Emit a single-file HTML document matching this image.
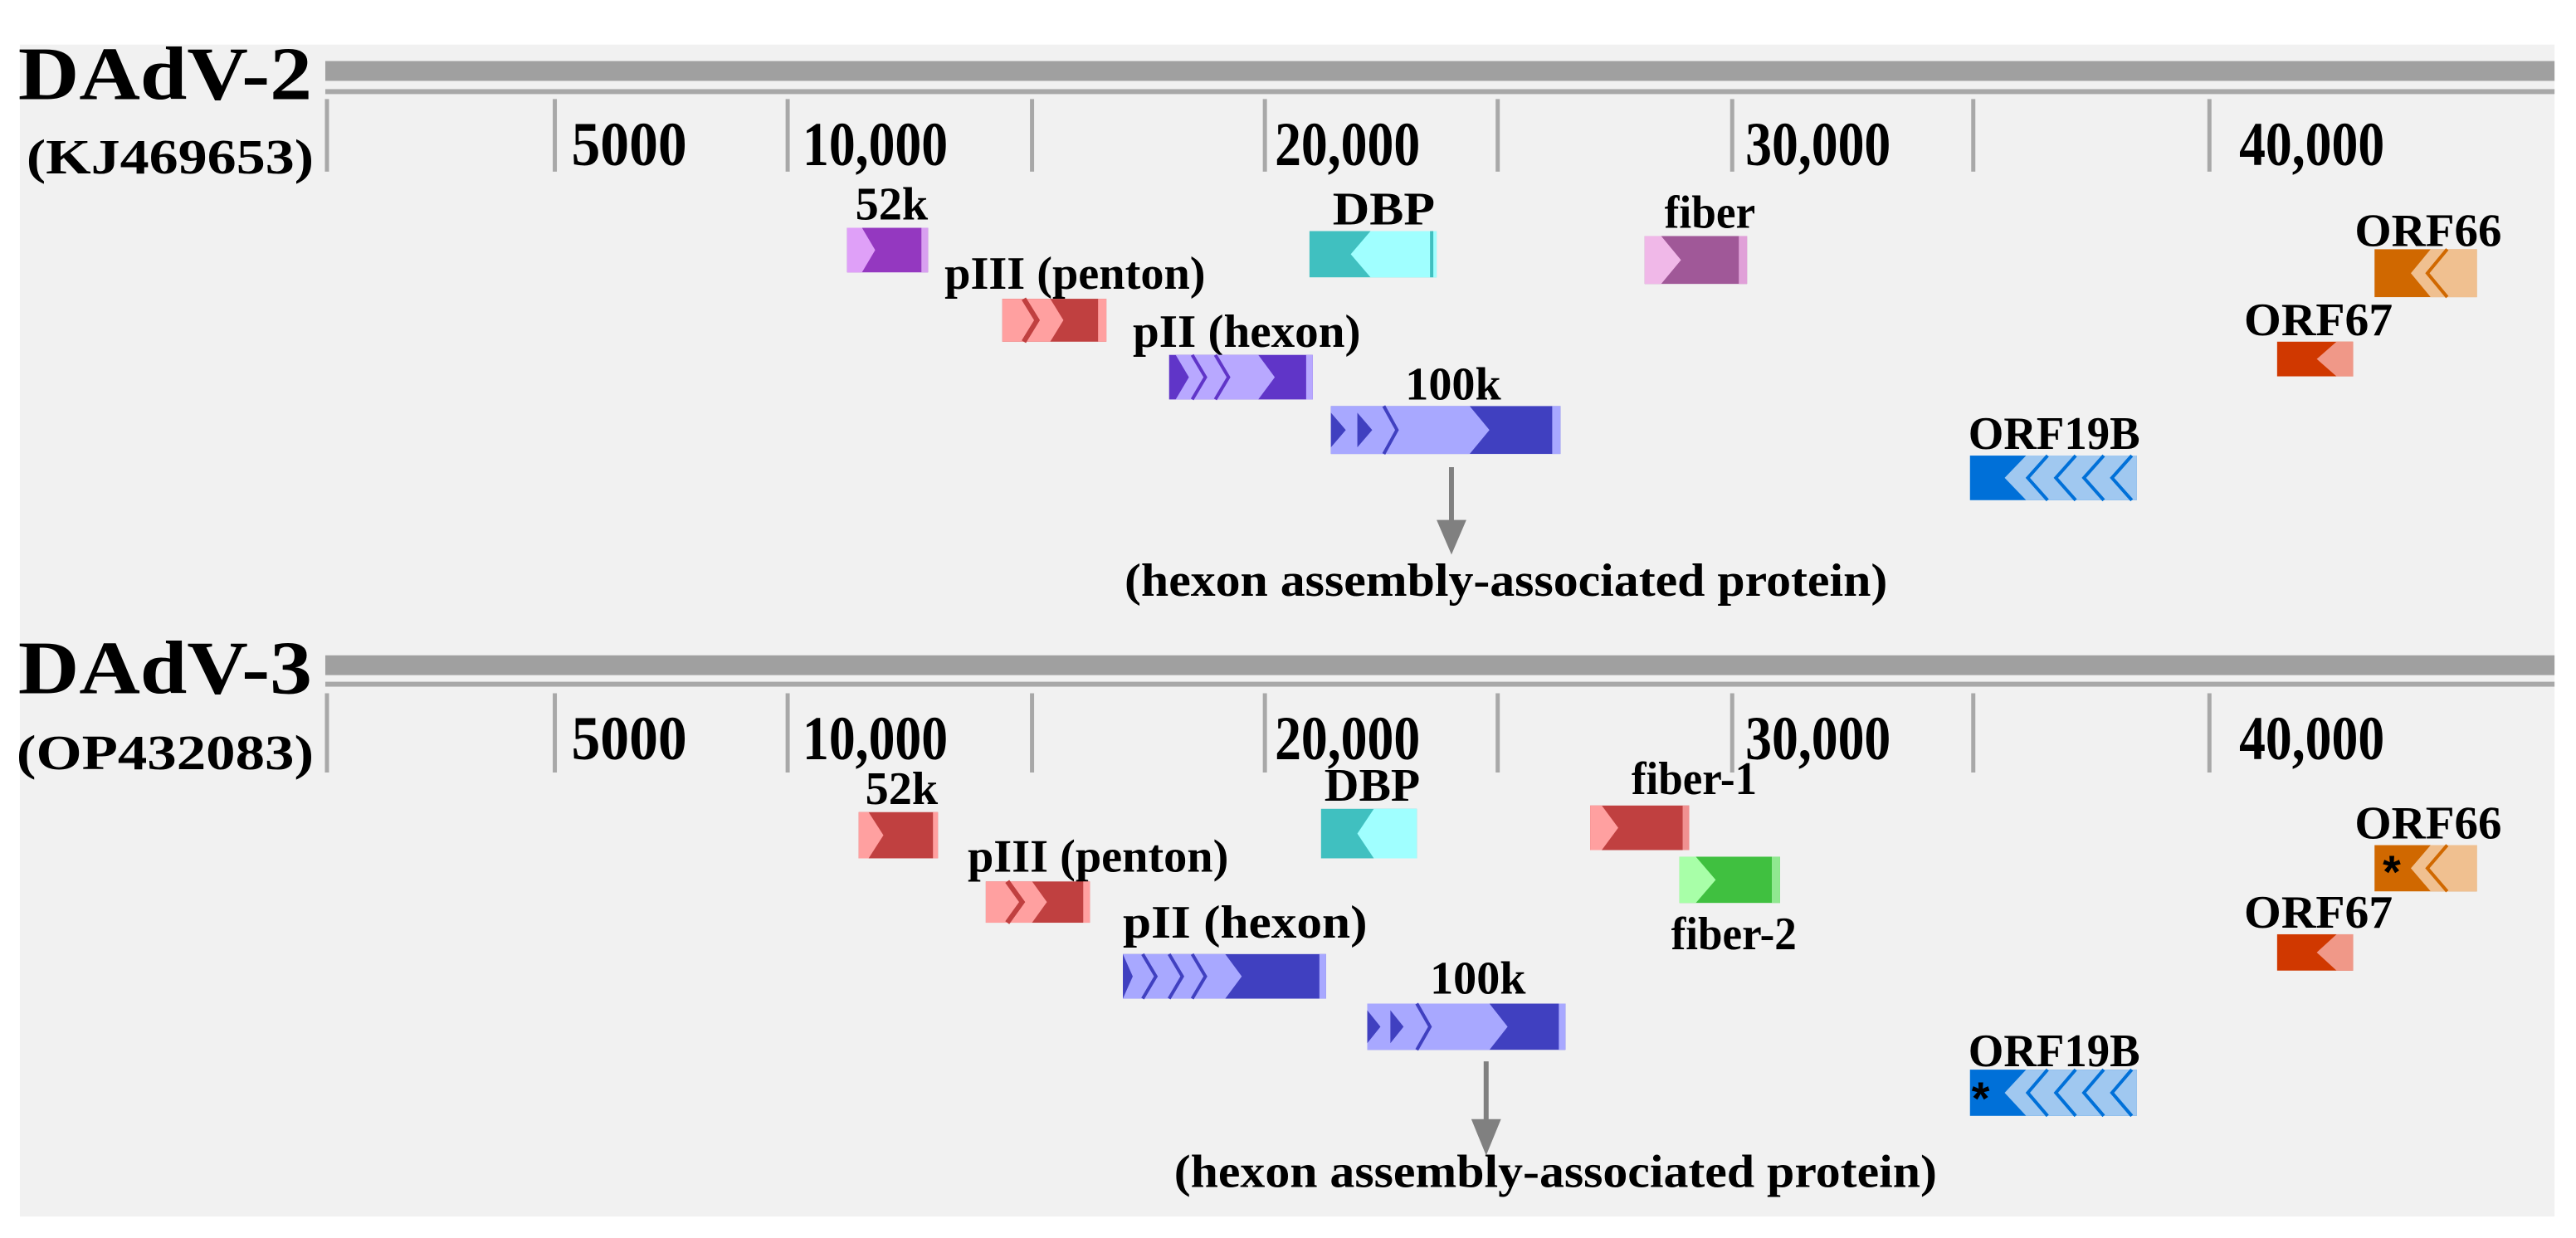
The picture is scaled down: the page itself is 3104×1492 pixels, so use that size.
<!DOCTYPE html>
<html><head><meta charset="utf-8"><style>
html,body{margin:0;padding:0;background:#fff;}
svg{display:block;}
text{font-family:"Liberation Serif",serif;font-weight:bold;fill:#000;}
</style></head><body>
<svg width="3104" height="1492" viewBox="0 0 1560 750" preserveAspectRatio="none" xmlns="http://www.w3.org/2000/svg">
<rect x="0" y="0" width="1560" height="750" fill="#fff"/>
<rect x="12" y="27" width="1535" height="710" fill="#f1f1f1"/>

<!-- TRACK 1 -->
<rect x="197" y="37" width="1350" height="12" fill="#a0a0a0"/>
<rect x="197" y="54" width="1350" height="3" fill="#a8a8a8"/>
<g stroke="#a8a8a8" stroke-width="2.5">
<line x1="198" y1="60" x2="198" y2="104"/><line x1="336" y1="60" x2="336" y2="104"/><line x1="477" y1="60" x2="477" y2="104"/><line x1="625" y1="60" x2="625" y2="104"/><line x1="766" y1="60" x2="766" y2="104"/><line x1="907" y1="60" x2="907" y2="104"/><line x1="1049" y1="60" x2="1049" y2="104"/><line x1="1195" y1="60" x2="1195" y2="104"/><line x1="1338" y1="60" x2="1338" y2="104"/>
</g>
<text x="11" y="60" font-size="46" textLength="178" lengthAdjust="spacingAndGlyphs">DAdV-2</text>
<text x="16" y="105" font-size="30" textLength="174" lengthAdjust="spacingAndGlyphs">(KJ469653)</text>
<g font-size="38">
<text x="346" y="100" textLength="70" lengthAdjust="spacingAndGlyphs">5000</text>
<text x="486" y="100" textLength="88" lengthAdjust="spacingAndGlyphs">10,000</text>
<text x="772" y="100" textLength="88" lengthAdjust="spacingAndGlyphs">20,000</text>
<text x="1057" y="100" textLength="88" lengthAdjust="spacingAndGlyphs">30,000</text>
<text x="1356" y="100" textLength="88" lengthAdjust="spacingAndGlyphs">40,000</text>
</g>
<g font-size="28">
<text x="518" y="133" textLength="44" lengthAdjust="spacingAndGlyphs">52k</text>
<text x="572" y="175" textLength="158" lengthAdjust="spacingAndGlyphs">pIII (penton)</text>
<text x="686" y="210" textLength="138" lengthAdjust="spacingAndGlyphs">pII (hexon)</text>
<text x="851" y="242" textLength="58" lengthAdjust="spacingAndGlyphs">100k</text>
<text x="807" y="136" textLength="62" lengthAdjust="spacingAndGlyphs">DBP</text>
<text x="1008" y="138" textLength="55" lengthAdjust="spacingAndGlyphs">fiber</text>
<text x="1426" y="149" textLength="89" lengthAdjust="spacingAndGlyphs">ORF66</text>
<text x="1359" y="203" textLength="90" lengthAdjust="spacingAndGlyphs">ORF67</text>
<text x="1192" y="272" textLength="104" lengthAdjust="spacingAndGlyphs">ORF19B</text>
<text x="681" y="361" textLength="462" lengthAdjust="spacingAndGlyphs">(hexon assembly-associated protein)</text>
</g>

<!-- genes track 1 -->
<!-- 52k -->
<rect x="513" y="138" width="49" height="27" fill="#9438c0"/>
<polygon points="513,138 522,138 530,151.5 522,165 513,165" fill="#dfa0f8"/>
<rect x="558" y="138" width="4" height="27" fill="#d8a0f0"/>
<!-- pIII -->
<rect x="607" y="181" width="63" height="26" fill="#c04040"/>
<polygon points="607,181 636,181 644,194 636,207 607,207" fill="#ffa0a0"/>
<polyline points="620,181 628,194 620,207" fill="none" stroke="#c04040" stroke-width="3"/>
<rect x="665" y="181" width="5" height="26" fill="#ffa0a0"/>
<!-- pII -->
<rect x="708" y="215" width="87" height="27" fill="#6035c8"/>
<polygon points="712,215 762,215 772,228.5 762,242 712,242 720,228.5" fill="#b8a8ff"/>
<polyline points="722,215 730,228.5 722,242" fill="none" stroke="#6035c8" stroke-width="2"/>
<polyline points="736,215 744,228.5 736,242" fill="none" stroke="#6035c8" stroke-width="2"/>
<rect x="791" y="215" width="4" height="27" fill="#b8a8ff"/>
<!-- 100k -->
<rect x="806" y="246" width="139" height="29" fill="#4040c0"/>
<polygon points="806,246 890,246 902,260.5 890,275 806,275" fill="#a8a8ff"/>
<polygon points="806,250 815,260.5 806,271" fill="#4040c0"/>
<polygon points="822,250 831,260.5 822,271" fill="#4040c0"/>
<polyline points="838,246 846,260.5 838,275" fill="none" stroke="#4040c0" stroke-width="2"/>
<rect x="940" y="246" width="5" height="29" fill="#a8a8ff"/>
<!-- arrow 1 -->
<line x1="879" y1="283" x2="879" y2="318" stroke="#808080" stroke-width="3"/>
<polygon points="870,315 888,315 879,336" fill="#808080"/>
<!-- DBP -->
<rect x="793" y="140" width="77" height="28" fill="#40c0c0"/>
<polygon points="870,140 830,140 818,154 830,168 870,168" fill="#a0ffff"/>
<rect x="866" y="140" width="2" height="28" fill="#40c0c0"/>
<!-- fiber -->
<rect x="996" y="143" width="62" height="29" fill="#a05898"/>
<polygon points="996,143 1006,143 1018,157.5 1006,172 996,172" fill="#f0b8e8"/>
<rect x="1053" y="143" width="5" height="29" fill="#e0a0d8"/>
<!-- ORF66 -->
<rect x="1438" y="151" width="62" height="29" fill="#d06800"/>
<polygon points="1500,151 1472,151 1460,165.5 1472,180 1500,180" fill="#f0c090"/>
<polyline points="1482,151 1470,165.5 1482,180" fill="none" stroke="#d06800" stroke-width="2"/>
<!-- ORF67 -->
<rect x="1379" y="207" width="46" height="21" fill="#d03800"/>
<polygon points="1425,207 1415,207 1403,217.5 1415,228 1425,228" fill="#f09888"/>
<!-- ORF19B -->
<rect x="1193" y="276" width="101" height="27" fill="#0070d8"/>
<polygon points="1294,276 1227,276 1214,289.5 1227,303 1294,303" fill="#a0c8f0"/>
<g fill="none" stroke="#0070d8" stroke-width="2">
<polyline points="1240,276 1228,289.5 1240,303"/><polyline points="1257,276 1245,289.5 1257,303"/><polyline points="1274,276 1262,289.5 1274,303"/><polyline points="1291,276 1279,289.5 1291,303"/>
</g>

<!-- TRACK 2 -->
<rect x="197" y="397" width="1350" height="12" fill="#a0a0a0"/>
<rect x="197" y="413" width="1350" height="3" fill="#a8a8a8"/>
<g stroke="#a8a8a8" stroke-width="2.5">
<line x1="198" y1="420" x2="198" y2="468"/><line x1="336" y1="420" x2="336" y2="468"/><line x1="477" y1="420" x2="477" y2="468"/><line x1="625" y1="420" x2="625" y2="468"/><line x1="766" y1="420" x2="766" y2="468"/><line x1="907" y1="420" x2="907" y2="468"/><line x1="1049" y1="420" x2="1049" y2="468"/><line x1="1195" y1="420" x2="1195" y2="468"/><line x1="1338" y1="420" x2="1338" y2="468"/>
</g>
<text x="11" y="420" font-size="46" textLength="178" lengthAdjust="spacingAndGlyphs">DAdV-3</text>
<text x="10" y="466" font-size="30" textLength="180" lengthAdjust="spacingAndGlyphs">(OP432083)</text>
<g font-size="38">
<text x="346" y="460" textLength="70" lengthAdjust="spacingAndGlyphs">5000</text>
<text x="486" y="460" textLength="88" lengthAdjust="spacingAndGlyphs">10,000</text>
<text x="772" y="460" textLength="88" lengthAdjust="spacingAndGlyphs">20,000</text>
<text x="1057" y="460" textLength="88" lengthAdjust="spacingAndGlyphs">30,000</text>
<text x="1356" y="460" textLength="88" lengthAdjust="spacingAndGlyphs">40,000</text>
</g>
<g font-size="28">
<text x="524" y="487" textLength="44" lengthAdjust="spacingAndGlyphs">52k</text>
<text x="586" y="528" textLength="158" lengthAdjust="spacingAndGlyphs">pIII (penton)</text>
<text x="680" y="568" textLength="148" lengthAdjust="spacingAndGlyphs">pII (hexon)</text>
<text x="866" y="602" textLength="58" lengthAdjust="spacingAndGlyphs">100k</text>
<text x="802" y="485" textLength="58" lengthAdjust="spacingAndGlyphs">DBP</text>
<text x="988" y="481" textLength="76" lengthAdjust="spacingAndGlyphs">fiber-1</text>
<text x="1012" y="575" textLength="76" lengthAdjust="spacingAndGlyphs">fiber-2</text>
<text x="1426" y="508" textLength="89" lengthAdjust="spacingAndGlyphs">ORF66</text>
<text x="1359" y="562" textLength="90" lengthAdjust="spacingAndGlyphs">ORF67</text>
<text x="1192" y="646" textLength="104" lengthAdjust="spacingAndGlyphs">ORF19B</text>
<text x="711" y="719" textLength="462" lengthAdjust="spacingAndGlyphs">(hexon assembly-associated protein)</text>
</g>

<!-- 52k -->
<rect x="520" y="492" width="48" height="28" fill="#c04040"/>
<polygon points="520,492 526,492 535,506 526,520 520,520" fill="#ffa0a0"/>
<rect x="565" y="492" width="3" height="28" fill="#ffa0a0"/>
<!-- pIII -->
<rect x="597" y="534" width="63" height="25" fill="#c04040"/>
<polygon points="597,534 625,534 634,546.5 625,559 597,559" fill="#ffa0a0"/>
<polyline points="610,534 619,546.5 610,559" fill="none" stroke="#c04040" stroke-width="3"/>
<rect x="656" y="534" width="4" height="25" fill="#ffa0a0"/>
<!-- pII -->
<rect x="680" y="578" width="123" height="27" fill="#4040c0"/>
<polygon points="680,578 742,578 752,591.5 742,605 680,605 686,591.5" fill="#a8a8ff"/>
<polyline points="692,578 700,591.5 692,605" fill="none" stroke="#4040c0" stroke-width="2"/>
<polyline points="708,578 716,591.5 708,605" fill="none" stroke="#4040c0" stroke-width="2"/>
<polyline points="722,578 730,591.5 722,605" fill="none" stroke="#4040c0" stroke-width="2"/>
<rect x="799" y="578" width="4" height="27" fill="#a8a8ff"/>
<!-- 100k -->
<rect x="828" y="608" width="120" height="28" fill="#4040c0"/>
<polygon points="828,608 902,608 913,622 902,636 828,636" fill="#a8a8ff"/>
<polygon points="828,612 836,622 828,632" fill="#4040c0"/>
<polygon points="842,612 850,622 842,632" fill="#4040c0"/>
<polyline points="858,608 866,622 858,636" fill="none" stroke="#4040c0" stroke-width="2"/>
<rect x="944" y="608" width="4" height="28" fill="#a8a8ff"/>
<!-- arrow 2 -->
<line x1="900" y1="643" x2="900" y2="682" stroke="#808080" stroke-width="3"/>
<polygon points="891,678 909,678 900,700" fill="#808080"/>
<!-- DBP -->
<rect x="800" y="490" width="58" height="30" fill="#40c0c0"/>
<polygon points="858,490 832,490 822,505 832,520 858,520" fill="#a0ffff"/>
<!-- fiber-1 -->
<rect x="963" y="488" width="60" height="27" fill="#c04040"/>
<polygon points="963,488 970,488 980,501.5 970,515 963,515" fill="#ffa0a0"/>
<rect x="1019" y="488" width="4" height="27" fill="#f09090"/>
<!-- fiber-2 -->
<rect x="1017" y="519" width="61" height="28" fill="#40c040"/>
<polygon points="1017,519 1027,519 1039,533 1027,547 1017,547" fill="#a8ffa8"/>
<rect x="1073" y="519" width="5" height="28" fill="#90e890"/>
<!-- ORF66 -->
<rect x="1438" y="512" width="62" height="28" fill="#d06800"/>
<polygon points="1500,512 1472,512 1460,526 1472,540 1500,540" fill="#f0c090"/>
<polyline points="1482,512 1470,526 1482,540" fill="none" stroke="#d06800" stroke-width="2"/>
<text x="1443" y="538" font-size="28" style="font-family:'Liberation Sans',sans-serif">*</text>
<!-- ORF67 -->
<rect x="1379" y="566" width="46" height="22" fill="#d03800"/>
<polygon points="1425,566 1415,566 1403,577 1415,588 1425,588" fill="#f09888"/>
<!-- ORF19B -->
<rect x="1193" y="648" width="101" height="28" fill="#0070d8"/>
<polygon points="1294,648 1227,648 1214,662 1227,676 1294,676" fill="#a0c8f0"/>
<g fill="none" stroke="#0070d8" stroke-width="2">
<polyline points="1240,648 1228,662 1240,676"/><polyline points="1257,648 1245,662 1257,676"/><polyline points="1274,648 1262,662 1274,676"/><polyline points="1291,648 1279,662 1291,676"/>
</g>
<text x="1194" y="675" font-size="28" style="font-family:'Liberation Sans',sans-serif">*</text>
</svg>
</body></html>
